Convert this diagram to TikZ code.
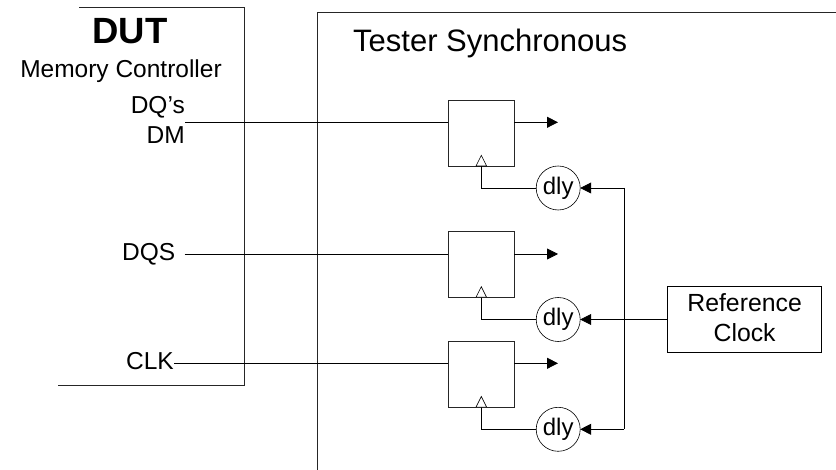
\documentclass[tikz,border=0pt]{standalone}
\usepackage{fontspec}
\setmainfont{Liberation Sans}
\usetikzlibrary{arrows.meta}
\tikzset{
  wire/.style={draw=black,line width=0.8pt},
  flow/.style={wire,-{Triangle[length=11pt,width=11pt]}},
  frame/.style={draw=black!85,line width=0.8pt},
  ffbox/.style={draw=black!85,line width=0.8pt,minimum width=66pt,minimum height=65.6pt,inner sep=0pt,outer sep=0pt},
  dlybox/.style={draw=black,circle,line width=0.6pt,minimum size=44pt,inner sep=0pt,outer sep=0pt,font=\fontsize{24}{24}\selectfont},
  clockbox/.style={draw=black,line width=0.8pt,minimum width=154pt,minimum height=65.5pt,inner sep=0pt,outer sep=0pt,align=center,font=\fontsize{24.8}{29.5}\selectfont},
  lbl/.style={inner sep=0pt,font=\fontsize{24.5}{24.5}\selectfont},
  tri/.style={draw=black,fill=white,line width=0.6pt,line join=miter},
}
\begin{document}
\begin{tikzpicture}[x=1pt,y=-1pt]
\useasboundingbox (0,0) rectangle (836,470);
% frames
\coordinate (dutTL) at (79.3,7.7);
\coordinate (dutTR) at (244,7.7);
\coordinate (dutBR) at (244,385);
\coordinate (dutBL) at (58,385);
\draw[frame] (dutTL) -- (dutTR) -- (dutBR) -- (dutBL);
\coordinate (tesB) at (317,470);
\coordinate (tesT) at (317,12.7);
\coordinate (tesR) at (836,12.7);
\draw[frame] (tesB) -- (tesT) -- (tesR);
% texts
\node[inner sep=0pt,anchor=base,font=\fontsize{36.5}{36.5}\selectfont\bfseries] (dut) at (130,44) {DUT};
\node[lbl,anchor=base] (mc) at (121,77.3) {Memory Controller};
\node[lbl,anchor=base east] (dq) at (185,114) {DQ’s};
\node[lbl,anchor=base east] (dm) at (185,143.3) {DM};
\node[lbl,anchor=base east] (dqs) at (175.5,260.7) {DQS};
\node[lbl,anchor=base east] (clk) at (174,369.3) {CLK};
\node[inner sep=0pt,anchor=base west,font=\fontsize{31}{31}\selectfont] (tes) at (353,51.7) {Tester Synchronous};
% flip-flops
\node[ffbox] (ff1) at (481.3,133.2) {};
\node[ffbox] (ff2) at (481.3,264.5) {};
\node[ffbox] (ff3) at (481.3,374.3) {};
% delays
\node[dlybox] (d1) at (558.2,188) {dly};
\node[dlybox] (d2) at (558.2,319.5) {dly};
\node[dlybox] (d3) at (558.2,429.3) {dly};
% reference clock
\node[clockbox] (ref) at (744.6,319.3) {Reference\\Clock\rule[-4pt]{0pt}{0pt}};
% inputs
\coordinate (in1) at (185,122.3);
\coordinate (in2) at (184.5,254);
\coordinate (in3) at (174,363.3);
\draw[wire] (in1) -- (in1-|ff1.west);
\draw[wire] (in2) -- (in2-|ff2.west);
\draw[wire] (in3) -- (in3-|ff3.west);
% outputs
\foreach \f/\y in {ff1/122.3,ff2/254,ff3/363.3}{
  \coordinate (o) at (558,\y);
  \draw[flow] (o-|\f.east) -- (o);
}
% clock lines and triangles
\foreach \f/\d in {ff1/d1,ff2/d2,ff3/d3}{
  \draw[wire] (\d.west) -| (\f.south);
  \draw[tri] ([xshift=-5.3pt]\f.south) -- ([yshift=10.6pt]\f.south) -- ([xshift=5.3pt]\f.south) -- cycle;
}
% distribution
\coordinate (bus) at (624,319.5);
\draw[wire] (d1.east-|bus) -- (d3.east-|bus);
\draw[flow] (d1.east-|bus) -- (d1.east);
\draw[flow] (d3.east-|bus) -- (d3.east);
\draw[flow] (ref.west|-d2.east) -- (d2.east);
\end{tikzpicture}
\end{document}
